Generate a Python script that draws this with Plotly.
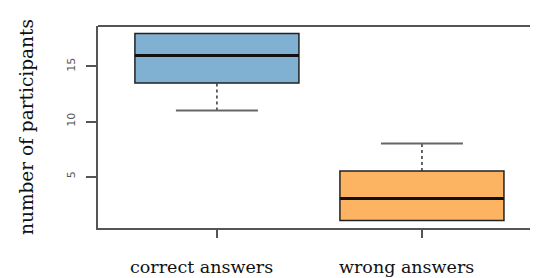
import plotly.graph_objects as go

categories = ["correct answers", "wrong answers"]
q1 = [13.5, 1.0]
median = [16.0, 3.0]
q3 = [18.0, 5.5]
whisker_low = [11.0, 1.0]
whisker_high = [18.0, 8.0]
fill_colors = ["#80B1D3", "#FDB462"]
y_ticks = [5, 10, 15]

xpos = [1, 2]
box_half = 0.4
cap_half = 0.2
frame_col = "#555555"

fig = go.Figure()
for i, x in enumerate(xpos):
    fig.add_trace(go.Box(
        x=[x], q1=[q1[i]], median=[median[i]], q3=[q3[i]],
        lowerfence=[q1[i]], upperfence=[q3[i]],
        width=2 * box_half, fillcolor=fill_colors[i],
        line=dict(color="#222222", width=1.5), showlegend=False,
        hoverinfo="skip", boxpoints=False,
    ))
    # median line (thick)
    fig.add_trace(go.Scatter(
        x=[x - box_half, x + box_half], y=[median[i], median[i]],
        mode="lines", line=dict(color="#111111", width=3),
        showlegend=False, hoverinfo="skip"))
    # whiskers (dashed) and caps
    for lo, hi, end in [(whisker_low[i], q1[i], whisker_low[i]), (q3[i], whisker_high[i], whisker_high[i])]:
        if hi > lo:
            fig.add_trace(go.Scatter(
                x=[x, x], y=[lo, hi], mode="lines",
                line=dict(color="#333333", width=1.5, dash="3px,3px"),
                showlegend=False, hoverinfo="skip"))
            fig.add_trace(go.Scatter(
                x=[x - cap_half, x + cap_half], y=[end, end], mode="lines",
                line=dict(color="#666666", width=2),
                showlegend=False, hoverinfo="skip"))

annotations = [
    dict(x=x, y=0, xref="x", yref="paper", text=cat, showarrow=False,
         xanchor="center", yanchor="middle", xshift=-15, yshift=-39,
         font=dict(family="DejaVu Serif", size=17.5, color="#111111"))
    for x, cat in zip(xpos, categories)
]

fig.update_layout(
    width=530, height=270,
    margin=dict(l=90, r=0, t=18, b=50),
    paper_bgcolor="white", plot_bgcolor="white",
    showlegend=False,
    xaxis=dict(
        range=[0.42, 2.566], tickmode="array", tickvals=xpos,
        showticklabels=False,
        showgrid=False, zeroline=False, showline=True, linecolor=frame_col, linewidth=2,
        ticks="outside", ticklen=8, tickwidth=1.5, tickcolor=frame_col,
        automargin=False,
    ),
    yaxis=dict(
        range=[0.32, 18.68], tickmode="array", tickvals=y_ticks,
        showgrid=False, zeroline=False, showline=True, linecolor=frame_col, linewidth=2,
        ticks="outside", ticklen=10, tickwidth=1.5, tickcolor=frame_col,
        tickangle=-90,
        tickfont=dict(family="DejaVu Sans", size=11, color="#555555"),
        ticklabelstandoff=7, automargin=False,
        title=dict(text="number of participants",
                   font=dict(family="DejaVu Serif", size=18.5, color="#111111"),
                   standoff=26),
    ),
    annotations=annotations,
    shapes=[dict(type="line", xref="paper", yref="paper", x0=0, x1=1, y0=1, y1=1,
                 line=dict(color=frame_col, width=2))],
)

fig.write_html("out.html")
